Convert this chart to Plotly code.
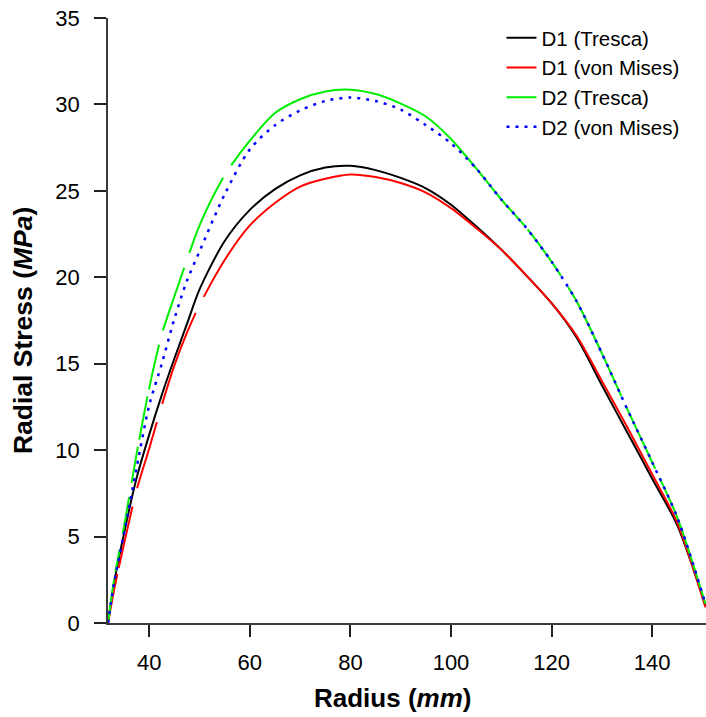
import plotly.graph_objects as go

# ---- data ----
radius = [31.8, 33, 35, 37.5, 40, 42.5, 45, 47.5, 50, 55, 60, 65, 70, 75, 80, 85, 90,
          95, 100, 105, 110, 115, 120, 125, 130, 135, 140, 145, 150.6]

d1_tresca = [0, 2.3, 5.2, 8.4, 10.9, 13.2, 15.3, 17.3, 19.3, 22.1, 23.9, 25.1, 25.9, 26.35,
             26.45, 26.2, 25.75, 25.15, 24.2, 22.95, 21.6, 20.1, 18.5, 16.5, 13.75, 11.05,
             8.35, 5.65, 1.0]
d1_vonmises = [0, 1.9, 4.6, 7.7, 10.1, 12.6, 14.9, 16.8, 18.4, 21.0, 23.0, 24.3, 25.25, 25.7,
               25.95, 25.8, 25.45, 24.9, 24.0, 22.85, 21.6, 20.1, 18.5, 16.6, 14.0, 11.35,
               8.6, 5.8, 0.9]
d2_tresca = [0, 2.5, 5.6, 9.8, 13.6, 16.7, 18.9, 21.0, 23.0, 25.9, 27.9, 29.5, 30.3, 30.75,
             30.85, 30.6, 30.05, 29.3, 28.0, 26.3, 24.5, 22.85, 20.9, 18.6, 15.6, 12.4,
             9.3, 6.1, 1.1]
d2_vonmises = [0, 2.3, 5.2, 9.0, 12.6, 15.0, 17.6, 19.8, 21.5, 24.8, 27.4, 28.8, 29.65, 30.2,
               30.4, 30.2, 29.7, 28.8, 27.75, 26.3, 24.5, 22.85, 20.9, 18.6, 15.6, 12.4,
               9.3, 6.1, 1.1]

series_names = ["D1 (Tresca)", "D1 (von Mises)", "D2 (Tresca)", "D2 (von Mises)"]
series_values = [d1_tresca, d1_vonmises, d2_tresca, d2_vonmises]
series_colors = ["#000000", "#ff0000", "#00ee00", "#0000ff"]
series_dash = [
    "solid",
    "50px,6px,63px,19px,69px,19px,97px,18px,5000px",
    "44px,8px,22px,16px,38px,14px,37px,7px,44px,7px,46px,15px,66px,16px,82px,15px,377px,5px,57px,13px,122px,11px,69px,10px,5000px",
    "3px,6px",
]
series_width = [2, 2, 2, 2.5]

x_ticks = [40, 60, 80, 100, 120, 140]
y_ticks = [0, 5, 10, 15, 20, 25, 30, 35]

FONT = "Liberation Sans, Arial, Helvetica, sans-serif"

fig = go.Figure()
for name, vals, col, dash, w in zip(series_names, series_values, series_colors,
                                    series_dash, series_width):
    fig.add_trace(go.Scatter(
        x=radius, y=vals, mode="lines", name=name,
        line=dict(color=col, width=w, dash=dash, shape="spline", smoothing=0.8),
    ))

axis_common = dict(
    showgrid=False, zeroline=False, showline=True, linecolor="#3a3a3a", linewidth=1.5,
    ticks="outside", ticklen=12, tickwidth=1.5, tickcolor="#222222",
    tickfont=dict(family=FONT, size=22, color="#000000"),
)

fig.update_layout(
    width=706, height=717,
    margin=dict(l=108, r=0, t=18, b=94),
    paper_bgcolor="white", plot_bgcolor="white",
    font=dict(family=FONT, color="#000000"),
    xaxis=dict(range=[31.8, 150.7], tickvals=x_ticks, ticklabelstandoff=7, **axis_common),
    yaxis=dict(range=[0, 35], tickvals=y_ticks, ticklabelstandoff=10, **axis_common),
    showlegend=True,
    legend=dict(
        x=0.658, y=1.0, xanchor="left", yanchor="top",
        bgcolor="rgba(0,0,0,0)", borderwidth=0,
        font=dict(family=FONT, size=20.5, color="#000000"),
        tracegroupgap=0,
    ),
    annotations=[
        dict(text="<b>Radius (<i>mm</i>)</b>", xref="paper", yref="paper",
             x=0.4766, y=-0.124, xanchor="center", yanchor="middle",
             showarrow=False, font=dict(family=FONT, size=26, color="#000000")),
        dict(text="<b>Radial Stress (<i>MPa</i>)</b>", xref="paper", yref="paper",
             x=-0.142, y=0.4826, xanchor="center", yanchor="middle", textangle=-90,
             showarrow=False, font=dict(family=FONT, size=26.5, color="#000000")),
    ],
)

fig.write_html("out.html")
